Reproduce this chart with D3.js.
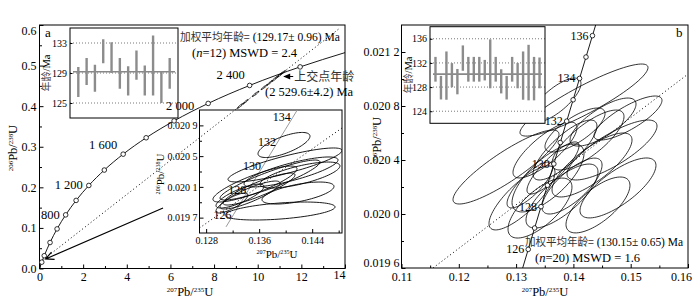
<!DOCTYPE html>
<html>
<head>
<meta charset="utf-8">
<script src="https://cdn.jsdelivr.net/npm/d3@7"></script>
<style>
  body { margin: 0; background: #fff; }
  svg { display: block; font-family: 'Liberation Serif', 'DejaVu Serif', serif; }
</style>
</head>
<body>
<svg id="chart" width="700" height="305"></svg>
<script>
// ---------- panel a : concordia (Ma, 207Pb/235U, 206Pb/238U) ----------
const concAgesA = [0, 100, 200, 400, 600, 800, 1000, 1200, 1400, 1600, 1800, 2000, 2200, 2400, 2600, 2750]
const concXA = [0, 0.1035, 0.2177, 0.4828, 0.8056, 1.1987, 1.6774, 2.2603, 2.9701, 3.8344, 4.8869, 6.1685, 7.7291, 9.6296, 11.9437, 14.0]
const concYA = [0, 0.01563, 0.03151, 0.06402, 0.09754, 0.13214, 0.16781, 0.20459, 0.24258, 0.28174, 0.32211, 0.36374, 0.40676, 0.45107, 0.49677, 0.53194]
const markAgesA = [100, 200, 400, 600, 800, 1000, 1200, 1400, 1600, 1800, 2000, 2200, 2400, 2600]
const labelAgesA = [800, 1200, 1600, 2000, 2400]
const labelTextA = ['800', '1 200', '1 600', '2 000', '2 400']

// discordia (lower -> beyond upper intercept) and upper intercept
const discordXA = [0.1355, 13.77]
const discordYA = [0.0202, 0.5926]
const upperX = 11.0767
const upperY = 0.48053

// spots on the discordia
const spotXA = [9.2, 9.45, 9.9, 10.3, 10.55, 10.8, 11.0, 11.15]
const spotYA = [0.4007, 0.4112, 0.4301, 0.4469, 0.4574, 0.4679, 0.4763, 0.4826]
const spotEXA = [0.15, 0.12, 0.15, 0.14, 0.12, 0.16, 0.14, 0.13]
const spotEYA = [0.0065, 0.0055, 0.0065, 0.006, 0.0055, 0.007, 0.006, 0.0055]

// inset a1 : weighted mean ages
const agesA = [127.8, 129.2, 128.3, 131.9, 131.05, 128.95, 127.95, 130.05, 128.0, 130.0, 127.1, 128.95]
const errA = [2.0, 1.8, 1.8, 1.6, 2.05, 2.05, 1.95, 1.95, 2.0, 4.0, 2.1, 2.05]
const meanA = 129.17
const insetTicksA = [125, 129, 133]

// inset a2 : zoomed concordia
const zoomX = [0.13975, 0.13915, 0.13537, 0.1399, 0.14081, 0.13598, 0.14186, 0.13311, 0.13764, 0.1319, 0.14216, 0.13462]
const zoomY = [0.020645, 0.019786, 0.020137, 0.020385, 0.020294, 0.020072, 0.02002, 0.019981, 0.020189, 0.01989, 0.020254, 0.019994]
const zoomEX = [0.00392, 0.0083, 0.00634, 0.0086, 0.00709, 0.00543, 0.00543, 0.00362, 0.00754, 0.00241, 0.00603, 0.00453]
const zoomEY = [0.000163, 0.000117, 0.000234, 0.000221, 0.000195, 0.000208, 0.000143, 0.000156, 0.00026, 0.00013, 0.000169, 0.000182]
const zoomRho = [0.7, 0.45, 0.85, 0.85, 0.8, 0.88, 0.6, 0.8, 0.9, 0.8, 0.7, 0.85]
const zoomDiscX = [0.127, 0.1485]
const zoomDiscY = [0.019565, 0.020866]
const zoomLabelAges = [126, 128, 130, 132, 134]

// ---------- panel b ----------
const concAgesB = [125, 126, 127, 128, 129, 130, 131, 132, 133, 134, 135, 136, 137]
const concXB = [0.131005, 0.132119, 0.133235, 0.134351, 0.135469, 0.136588, 0.137708, 0.138829, 0.139951, 0.141074, 0.142198, 0.143324, 0.14445]
const concYB = [0.0195799, 0.019738, 0.0198962, 0.0200544, 0.0202127, 0.020371, 0.0205293, 0.0206876, 0.0208459, 0.0210043, 0.0211627, 0.0213211, 0.0214796]
const markAgesB = [126, 127, 128, 129, 130, 131, 132, 133, 134, 135, 136]
const labelAgesB = [126, 128, 130, 132, 134, 136]
const discordXB = [0.1155, 0.1598]
const discordYB = [0.0196, 0.02103]

const ellXB = [0.12824, 0.13103, 0.13417, 0.13801, 0.14325, 0.14674, 0.14778, 0.14429, 0.14185, 0.13696, 0.14028, 0.13504, 0.13644, 0.13853, 0.14255, 0.13243, 0.14517, 0.13557, 0.14953, 0.13976]
const ellYB = [0.020348, 0.020119, 0.020044, 0.020133, 0.020363, 0.020474, 0.020193, 0.020067, 0.020844, 0.020844, 0.020622, 0.020474, 0.020341, 0.020474, 0.020548, 0.020215, 0.020681, 0.020267, 0.020711, 0.020207]
const ellEXB = [0.00925, 0.00576, 0.00558, 0.00628, 0.00698, 0.00785, 0.00663, 0.00558, 0.01117, 0.00436, 0.00524, 0.00558, 0.00454, 0.00558, 0.00628, 0.00401, 0.00576, 0.00628, 0.00593, 0.00524]
const ellEYB = [0.000274, 0.000237, 0.000222, 0.000237, 0.000237, 0.000222, 0.000222, 0.000207, 0.000267, 0.000163, 0.000163, 0.000207, 0.000193, 0.000222, 0.000222, 0.00017, 0.000178, 0.000252, 0.000163, 0.000207]
const ellRhoB = [0.88, 0.8, 0.7, 0.75, 0.78, 0.8, 0.75, 0.7, 0.9, 0.75, 0.75, 0.8, 0.85, 0.8, 0.78, 0.8, 0.75, 0.72, 0.8, 0.75]

// inset b1
const agesB = [130.95, 127.9, 129.9, 129.97, 128.9, 132.8, 130.95, 130.95, 130.95, 130.8, 131.85, 130.95, 128.95, 127.9, 130.95, 129.9, 129.9, 130.4, 129.4, 130.35]
const errB = [2.05, 1.95, 4.0, 2.0, 2.1, 2.1, 2.05, 2.05, 2.05, 1.7, 4.05, 2.05, 2.0, 1.95, 2.05, 2.1, 4.0, 4.6, 3.6, 2.55]
const meanB = 130.15
const insetTicksB = [124, 128, 132, 136]

// ---------- scales ----------
const xA = d3.scaleLinear([0, 14], [39.5, 345])
const yA = d3.scaleLinear([0, 0.6], [268.5, 25])
const xB = d3.scaleLinear([0.11, 0.16], [401.5, 688])
const yB = d3.scaleLinear([0.0196, 0.0214], [268, 25])
const xI1 = d3.scaleLinear([0, 13], [70, 178])
const yI1 = d3.scaleLinear([123, 135], [118, 28])
const xI2 = d3.scaleLinear([0, 21], [430, 545])
const yI2 = d3.scaleLinear([122, 138], [123.3, 26.7])
const xZ = d3.scaleLinear([0.127, 0.1485], [199.5, 342])
const yZ = d3.scaleLinear([0.0195, 0.0211], [233, 110])

const svg = d3.select('#chart')
svg.append('rect').attr('width', 700).attr('height', 305).attr('fill', '#fff')

const spaced = (f) => (d) => {
  const s = d3.format(f)(d)
  return s.slice(0, -1) + ' ' + s.slice(-1)
}

/**
 * Draws ticks pointing inward, labels and the frame of one plot area.
 */
function drawFrame (g, x, y, o) {
  const [x0, x1] = x.range()
  const [y0, y1] = y.range()
  const style = (a) => {
    a.select('.domain').remove()
    a.attr('font-family', null).attr('font-size', o.fontSize)
    a.selectAll('line').attr('stroke', '#000')
  }
  g.append('g').attr('transform', 'translate(0,' + y0 + ')')
    .call(d3.axisBottom(x).tickValues(o.xMinor).tickSize(-2.5).tickFormat(''))
    .call(style)
  g.append('g').attr('class', 'xax').attr('transform', 'translate(0,' + y0 + ')')
    .call(d3.axisBottom(x).tickValues(o.xTicks).tickSize(-4).tickPadding(o.xPad).tickFormat(o.xFormat))
    .call(style)
  g.append('g').attr('transform', 'translate(' + x0 + ',0)')
    .call(d3.axisLeft(y).tickValues(o.yMinor).tickSize(-2.5).tickFormat(''))
    .call(style)
  g.append('g').attr('class', 'yax').attr('transform', 'translate(' + x0 + ',0)')
    .call(d3.axisLeft(y).tickValues(o.yTicks).tickSize(-4).tickPadding(o.yPad).tickFormat(o.yFormat))
    .call(style)
  g.append('rect')
    .attr('x', x0).attr('y', y1)
    .attr('width', x1 - x0).attr('height', y0 - y1)
    .attr('fill', 'none')
    .attr('stroke', '#000')
    .attr('stroke-width', 1)
}

/**
 * Builds the path of an error ellipse from its half extents and correlation.
 */
function ellipsePath (x, y, cx, cy, ex, ey, rho) {
  const pts = d3.range(0, 361, 4).map((deg) => {
    const t = deg * Math.PI / 180
    return [x(cx + ex * Math.cos(t)), y(cy + ey * (rho * Math.cos(t) + Math.sqrt(1 - rho * rho) * Math.sin(t)))]
  })
  return d3.line()(pts) + 'Z'
}

/**
 * Writes an isotope ratio label such as 207Pb/235U.
 */
function ratioLabel (g, a, b, size) {
  g.append('tspan').attr('font-size', size * 0.55).attr('dy', -size * 0.34).text(a)
  g.append('tspan').attr('font-size', size).attr('dy', size * 0.34).text('Pb/')
  g.append('tspan').attr('font-size', size * 0.55).attr('dy', -size * 0.34).text(b)
  g.append('tspan').attr('font-size', size).attr('dy', size * 0.34).text('U')
}

function cjkText (g, x, y, cjk, latin, size, len) {
  const t = g.append('text').attr('x', x).attr('y', y).attr('font-size', size)
  if (len) t.attr('textLength', len).attr('lengthAdjust', 'spacingAndGlyphs')
  t.append('tspan').attr('font-family', 'Noto Sans CJK SC').attr('font-size', size - 1).attr('fill', '#333').text(cjk)
  if (latin) t.append('tspan').text(latin)
  return t
}

function statsText (g, x, y, n, mswd, size) {
  const t = g.append('text').attr('x', x).attr('y', y).attr('font-size', size)
  t.append('tspan').text('(')
  t.append('tspan').attr('font-style', 'italic').text('n')
  t.append('tspan').text('=' + n + ') MSWD = ' + mswd)
}

/**
 * Weighted mean age inset with error bars.
 */
function drawAgeInset (g, x, y, ages, errs, mean, ticks, labelX) {
  const [x0, x1] = x.range()
  const [y0, y1] = y.range()
  g.append('rect').attr('x', x0).attr('y', y1).attr('width', x1 - x0).attr('height', y0 - y1)
    .attr('fill', '#fff')
  g.selectAll('.grid').data(ticks).enter().append('line')
    .attr('x1', x0).attr('x2', x1)
    .attr('y1', (d) => y(d)).attr('y2', (d) => y(d))
    .attr('stroke', '#555').attr('stroke-width', 0.8).attr('stroke-dasharray', '1,2')
  g.append('line')
    .attr('x1', x0 + 3).attr('x2', x1 - 3)
    .attr('y1', y(mean)).attr('y2', y(mean))
    .attr('stroke', '#888').attr('stroke-width', 1.6)
  g.selectAll('.bar').data(ages).enter().append('line')
    .attr('x1', (d, i) => x(i + 1)).attr('x2', (d, i) => x(i + 1))
    .attr('y1', (d, i) => y(d + errs[i])).attr('y2', (d, i) => y(d - errs[i]))
    .attr('stroke', '#8c8c8c').attr('stroke-width', 2.4)
  g.append('g').attr('transform', 'translate(' + x0 + ',0)')
    .call(d3.axisLeft(y).tickValues(ticks).tickSize(-2.5).tickPadding(3))
    .call((a) => {
      a.select('.domain').remove()
      a.attr('font-family', null).attr('font-size', 10)
      a.selectAll('line').attr('stroke', '#000')
    })
  g.append('rect').attr('x', x0).attr('y', y1).attr('width', x1 - x0).attr('height', y0 - y1)
    .attr('fill', 'none').attr('stroke', '#000').attr('stroke-width', 1)
  const t = g.append('text')
    .attr('transform', 'translate(' + labelX + ',' + ((y0 + y1) / 2) + ') rotate(-90)')
    .attr('text-anchor', 'middle').attr('font-size', 10.5)
  t.append('tspan').attr('font-family', 'Noto Sans CJK SC').attr('font-size', 10).attr('fill', '#444').text('年龄')
  t.append('tspan').text('/Ma')
}

// =============== PANEL A ===============
const ga = svg.append('g')
drawFrame(ga, xA, yA, {
  xTicks: d3.range(0, 15, 2), xMinor: d3.range(1, 14, 2), xFormat: d3.format('d'), xPad: 4,
  yTicks: [0, 0.1, 0.2, 0.3, 0.4, 0.5, 0.6], yMinor: [0.05, 0.15, 0.25, 0.35, 0.45, 0.55], yFormat: d3.format('.1f'), yPad: 3,
  fontSize: 12
})
ga.select('.xax').selectAll('text').filter((d) => d === 14).attr('dx', -6).attr('dy', '0.5em')
ga.select('.yax').selectAll('text').filter((d) => d === 0.6).attr('dy', '0.75em')

// inset a1 (drawn first so the curve labels sit on top of it)
drawAgeInset(ga.append('g'), xI1, yI1, agesA, errA, meanA, insetTicksA, 50)

ga.append('line')
  .attr('x1', xA(discordXA[0])).attr('y1', yA(discordYA[0]))
  .attr('x2', xA(discordXA[1])).attr('y2', yA(discordYA[1]))
  .attr('stroke', '#000').attr('stroke-width', 1).attr('stroke-dasharray', '1,2.6')

const concA = concAgesA.map((a, i) => [concXA[i], concYA[i]])
ga.append('path')
  .attr('d', d3.line().x((d) => xA(d[0])).y((d) => yA(d[1])).curve(d3.curveMonotoneX)(concA))
  .attr('fill', 'none').attr('stroke', '#000').attr('stroke-width', 0.9)
ga.selectAll('.mk').data(markAgesA).enter().append('circle')
  .attr('cx', (d) => xA(concXA[concAgesA.indexOf(d)]))
  .attr('cy', (d) => yA(concYA[concAgesA.indexOf(d)]))
  .attr('r', 2.3).attr('fill', '#fff').attr('stroke', '#000').attr('stroke-width', 0.8)

const ageLabelOffA = [[-6, 4], [-6, 4], [-6, -5], [6, -11], [-5, -6]]
ga.selectAll('.al').data(labelAgesA).enter().append('text')
  .attr('x', (d, i) => xA(concXA[concAgesA.indexOf(d)]) + ageLabelOffA[i][0])
  .attr('y', (d, i) => yA(concYA[concAgesA.indexOf(d)]) + ageLabelOffA[i][1])
  .attr('text-anchor', (d, i) => i === 3 ? 'middle' : 'end')
  .attr('font-size', 12.5)
  .text((d, i) => labelTextA[i])

ga.selectAll('.spot').data(spotXA).enter().append('path')
  .attr('d', (d, i) => ellipsePath(xA, yA, d, spotYA[i], spotEXA[i], spotEYA[i], 0.95))
  .attr('fill', 'none').attr('stroke', '#000').attr('stroke-width', 0.9)

// upper intercept arrow
const ua = ga.append('g')
ua.append('line')
  .attr('x1', xA(upperX) + 3).attr('y1', yA(upperY) + 3)
  .attr('x2', xA(upperX) + 12).attr('y2', yA(upperY) + 3)
  .attr('stroke', '#000').attr('stroke-width', 1)
ua.append('path')
  .attr('d', 'M' + (xA(upperX) + 2) + ',' + (yA(upperY) + 3) + 'l7,-3l0,6z')
  .attr('fill', '#000')
cjkText(ga, xA(upperX) + 13, yA(upperY) + 8, '上交点年龄', null, 13)
ga.append('text').attr('x', 265).attr('y', 96).attr('font-size', 12.5).text('(2 529.6±4.2) Ma')

// big arrow to the lower intercept
const arrowXA = [5.66, 0.28]
const arrowYA = [0.149, 0.0235]
const ax0 = xA(arrowXA[0]); const ay0 = yA(arrowYA[0]); const ax1 = xA(arrowXA[1]); const ay1 = yA(arrowYA[1])
const ang = Math.atan2(ay0 - ay1, ax0 - ax1)
ga.append('path')
  .attr('d', 'M' + ax0 + ',' + ay0 + 'L' + ax1 + ',' + ay1 +
    'M' + (ax1 + 9 * Math.cos(ang + 0.45)) + ',' + (ay1 + 9 * Math.sin(ang + 0.45)) +
    'L' + ax1 + ',' + ay1 +
    'L' + (ax1 + 9 * Math.cos(ang - 0.45)) + ',' + (ay1 + 9 * Math.sin(ang - 0.45)))
  .attr('fill', 'none').attr('stroke', '#000').attr('stroke-width', 1.2)

cjkText(ga, 180, 41, '加权平均年龄=', ' (129.17± 0.96) Ma', 12.5, 160)
statsText(ga, 192, 57, 12, '2.4', 12.5)
ga.append('text').attr('x', 45).attr('y', 37).attr('font-size', 13).text('a')

// inset a2
const gz = ga.append('g')
gz.append('clipPath').attr('id', 'clipZ').append('rect')
  .attr('x', 199.5).attr('y', 110).attr('width', 142.5).attr('height', 123)
drawFrame(gz, xZ, yZ, {
  xTicks: [0.128, 0.136, 0.144], xMinor: [0.132, 0.14, 0.148], xFormat: d3.format('.3f'), xPad: 4,
  yTicks: [0.0197, 0.0201, 0.0205, 0.0209], yMinor: [0.0199, 0.0203, 0.0207], yFormat: spaced('.4f'), yPad: 2,
  fontSize: 10
})
const zc = gz.append('g').attr('clip-path', 'url(#clipZ)')
zc.append('line')
  .attr('x1', xZ(zoomDiscX[0])).attr('y1', yZ(zoomDiscY[0]))
  .attr('x2', xZ(zoomDiscX[1])).attr('y2', yZ(zoomDiscY[1]))
  .attr('stroke', '#000').attr('stroke-dasharray', '1,2.6')
const concB = concAgesB.map((a, i) => [concXB[i], concYB[i]])
zc.append('path')
  .attr('d', d3.line().x((d) => xZ(d[0])).y((d) => yZ(d[1])).curve(d3.curveMonotoneX)(concB))
  .attr('fill', 'none').attr('stroke', '#999').attr('stroke-width', 1)
zc.selectAll('.ze').data(zoomX).enter().append('path')
  .attr('d', (d, i) => ellipsePath(xZ, yZ, d, zoomY[i], zoomEX[i], zoomEY[i], zoomRho[i]))
  .attr('fill', 'none').attr('stroke', '#000').attr('stroke-width', 0.9)
gz.selectAll('.zl').data(zoomLabelAges).enter().append('text')
  .attr('x', (d) => xZ(concXB[concAgesB.indexOf(d)]) - 2)
  .attr('y', (d) => yZ(concYB[concAgesB.indexOf(d)]) + 4)
  .attr('text-anchor', 'end').attr('font-size', 12)
  .text((d) => d)
const zxl = gz.append('text').attr('x', 277).attr('y', 258).attr('text-anchor', 'middle')
ratioLabel(zxl, '207', '235', 11)
const zyl = gz.append('text').attr('transform', 'translate(164,174) rotate(-90)').attr('text-anchor', 'middle')
ratioLabel(zyl, '206', '238', 11)

// axis titles a
const xta = ga.append('text').attr('x', 190).attr('y', 296).attr('text-anchor', 'middle')
ratioLabel(xta, '207', '235', 12.5)
const yta = ga.append('text').attr('transform', 'translate(17,148) rotate(-90)').attr('text-anchor', 'middle')
ratioLabel(yta, '206', '238', 12.5)

// =============== PANEL B ===============
const gb = svg.append('g')
gb.append('clipPath').attr('id', 'clipB').append('rect')
  .attr('x', 401.5).attr('y', 25).attr('width', 286.5).attr('height', 243)
drawFrame(gb, xB, yB, {
  xTicks: [0.11, 0.12, 0.13, 0.14, 0.15, 0.16], xMinor: [0.115, 0.125, 0.135, 0.145, 0.155], xFormat: d3.format('.2f'), xPad: 4,
  yTicks: [0.0196, 0.02, 0.0204, 0.0208, 0.0212], yMinor: [0.0198, 0.0202, 0.0206, 0.021], yFormat: spaced('.4f'), yPad: 2,
  fontSize: 12
})
gb.select('.xax').selectAll('text').filter((d) => d === 0.16).attr('dx', -7)
gb.select('.yax').selectAll('text').filter((d) => d === 0.0196).attr('dy', '-0.1em')

const bc = gb.append('g').attr('clip-path', 'url(#clipB)')
bc.append('line')
  .attr('x1', xB(discordXB[0])).attr('y1', yB(discordYB[0]))
  .attr('x2', xB(discordXB[1])).attr('y2', yB(discordYB[1]))
  .attr('stroke', '#000').attr('stroke-dasharray', '1,2.6')
bc.selectAll('.be').data(ellXB).enter().append('path')
  .attr('d', (d, i) => ellipsePath(xB, yB, d, ellYB[i], ellEXB[i], ellEYB[i], ellRhoB[i]))
  .attr('fill', 'none').attr('stroke', '#000').attr('stroke-width', 0.8)
bc.append('path')
  .attr('d', d3.line().x((d) => xB(d[0])).y((d) => yB(d[1])).curve(d3.curveMonotoneX)(concB))
  .attr('fill', 'none').attr('stroke', '#000').attr('stroke-width', 0.9)
bc.selectAll('.mb').data(markAgesB).enter().append('circle')
  .attr('cx', (d) => xB(concXB[concAgesB.indexOf(d)]))
  .attr('cy', (d) => yB(concYB[concAgesB.indexOf(d)]))
  .attr('r', 2.3).attr('fill', '#fff').attr('stroke', '#000').attr('stroke-width', 0.8)
gb.selectAll('.lb').data(labelAgesB).enter().append('text')
  .attr('x', (d) => xB(concXB[concAgesB.indexOf(d)]) - 4)
  .attr('y', (d) => yB(concYB[concAgesB.indexOf(d)]) + 4)
  .attr('text-anchor', 'end').attr('font-size', 12)
  .text((d) => d)

cjkText(gb, 525, 246, '加权平均年龄=', ' (130.15± 0.65) Ma', 12.5, 158)
statsText(gb, 535, 262, 20, '1.6', 12.5)
gb.append('text').attr('x', 676).attr('y', 37).attr('font-size', 13).text('b')

drawAgeInset(gb.append('g'), xI2, yI2, agesB, errB, meanB, insetTicksB, 412)

const xtb = gb.append('text').attr('x', 545).attr('y', 296).attr('text-anchor', 'middle')
ratioLabel(xtb, '207', '235', 12.5)
const ytb = gb.append('text').attr('transform', 'translate(381,140) rotate(-90)').attr('text-anchor', 'middle')
ratioLabel(ytb, '206', '238', 12.5)
</script>
</body>
</html>
